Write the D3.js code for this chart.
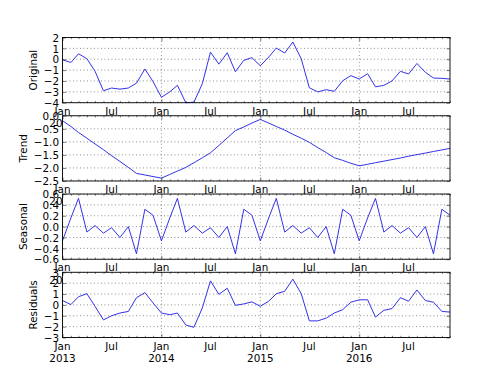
<!DOCTYPE html>
<html>
<head>
<meta charset="utf-8">
<script src="https://cdn.jsdelivr.net/npm/d3@7"></script>
<style>
  html, body { margin: 0; padding: 0; background: #fff; }
  text { font-family: "DejaVu Sans", sans-serif; font-size: 10.4px; fill: #000; }
</style>
</head>
<body>
<div id="chart"></div>
<script>
// monthly series, Jan 2013 .. Dec 2016
const original = [
  -0.05, -0.3, 0.5, 0.05, -1.1, -2.9, -2.65, -2.75, -2.65, -2.2, -0.9, -2.05,
  -3.5, -3.0, -2.4, -4.0, -3.95, -2.25, 0.65, -0.45, 0.6, -1.15, -0.1, 0.15,
  -0.6, 0.2, 1.03, 0.57, 1.59, 0.04, -2.63, -3.0, -2.8, -2.95, -1.98, -1.51,
  -1.82, -1.33, -2.54, -2.4, -2.0, -1.11, -1.36, -0.39, -1.2, -1.73, -1.76, -1.82
];
const trend = [
  -0.19, -0.41, -0.64, -0.86, -1.08, -1.30, -1.53, -1.75, -1.98, -2.21, -2.27, -2.33,
  -2.39, -2.25, -2.12, -1.98, -1.80, -1.61, -1.42, -1.14, -0.85, -0.57, -0.43, -0.28,
  -0.14, -0.28, -0.41, -0.55, -0.71, -0.86, -1.02, -1.22, -1.41, -1.61, -1.71, -1.82,
  -1.92, -1.86, -1.80, -1.74, -1.68, -1.62, -1.55, -1.49, -1.43, -1.37, -1.31, -1.25
];
const seasonal = [
  -0.26, 0.16, 0.52, -0.10, 0.02, -0.12, -0.02, -0.20, 0.00, -0.50, 0.32, 0.21,
  -0.26, 0.16, 0.52, -0.10, 0.02, -0.12, -0.02, -0.20, 0.00, -0.50, 0.32, 0.21,
  -0.26, 0.16, 0.52, -0.10, 0.02, -0.12, -0.02, -0.20, 0.00, -0.50, 0.32, 0.21,
  -0.26, 0.16, 0.52, -0.10, 0.02, -0.12, -0.02, -0.20, 0.00, -0.50, 0.32, 0.21
];
const residual = [
  0.4, 0.03, 0.75, 1.03, -0.13, -1.38, -1.0, -0.75, -0.6, 0.66, 1.13, 0.19,
  -0.75, -0.9, -0.75, -1.85, -2.06, -0.28, 2.21, 0.97, 1.53, -0.04, 0.09, 0.28,
  -0.13, 0.34, 1.03, 1.25, 2.37, 1.03, -1.47, -1.47, -1.22, -0.75, -0.44, 0.25,
  0.47, 0.47, -1.12, -0.5, -0.34, 0.66, 0.34, 1.37, 0.4, 0.25, -0.6, -0.66
];

const originalTicks = [-4, -3, -2, -1, 0, 1, 2];
const trendTicks = [-2.5, -2.0, -1.5, -1.0, -0.5, 0.0];
const seasonalTicks = [-0.6, -0.4, -0.2, 0.0, 0.2, 0.4, 0.6];
const residualTicks = [-3, -2, -1, 0, 1, 2, 3];

const monthNames = ["Jan", "Feb", "Mar", "Apr", "May", "Jun", "Jul", "Aug", "Sep", "Oct", "Nov", "Dec"];

const panels = [
  { name: "Original", values: original, ticks: originalTicks, fmt: d3.format("d") },
  { name: "Trend", values: trend, ticks: trendTicks, fmt: d3.format(".1f") },
  { name: "Seasonal", values: seasonal, ticks: seasonalTicks, fmt: d3.format(".1f") },
  { name: "Residuals", values: residual, ticks: residualTicks, fmt: d3.format("d") }
];

const width = 500, height = 375;
const margin = { left: 62.5, right: 450, top: 37.5, bottom: 337.5 };
const panelH = (margin.bottom - margin.top) / 4.6;
const gap = panelH * 0.2;
const w = margin.right - margin.left;
const majorLen = 3.5, minorLen = 1.7, pad = 3.5;

const dates = d3.timeMonth.range(new Date(2013, 0, 1), new Date(2017, 0, 1));
const jans = dates.filter(d => d.getMonth() === 0);
const minors = dates.filter(d => d.getMonth() !== 0);

const x = d3.scaleTime()
  .domain([dates[0], dates[dates.length - 1]])
  .range([0, w]);

const svg = d3.select("#chart")
  .append("svg")
  .attr("width", width)
  .attr("height", height);

svg.append("rect").attr("width", width).attr("height", height).attr("fill", "#fff");

panels.forEach((p, i) => {
  const g = svg.append("g")
    .attr("transform", `translate(${margin.left},${margin.top + i * (panelH + gap)})`);

  const y = d3.scaleLinear()
    .domain([p.ticks[0], p.ticks[p.ticks.length - 1]])
    .range([panelH, 0]);

  g.append("rect")
    .attr("width", w)
    .attr("height", panelH)
    .attr("fill", "#fff");

  // grid
  g.selectAll(".hgrid")
    .data(p.ticks)
    .enter()
    .append("line")
    .attr("x1", 0)
    .attr("x2", w)
    .attr("y1", d => y(d))
    .attr("y2", d => y(d))
    .attr("stroke", "#000")
    .attr("stroke-width", 0.5)
    .attr("stroke-dasharray", "0.9,2.6");

  g.selectAll(".vgrid")
    .data(jans)
    .enter()
    .append("line")
    .attr("x1", d => x(d))
    .attr("x2", d => x(d))
    .attr("y1", 0)
    .attr("y2", panelH)
    .attr("stroke", "#000")
    .attr("stroke-width", 0.5)
    .attr("stroke-dasharray", "0.9,2.6");

  const line = d3.line()
    .x((d, j) => x(dates[j]))
    .y(d => y(d));

  g.append("path")
    .datum(p.values)
    .attr("d", line)
    .attr("fill", "none")
    .attr("stroke", "#2828e6")
    .attr("stroke-width", 0.95);

  g.append("rect")
    .attr("width", w)
    .attr("height", panelH)
    .attr("fill", "none")
    .attr("stroke", "#000")
    .attr("stroke-width", 0.9);

  // x ticks, inward, on both sides
  const xb = g.append("g").attr("transform", `translate(0,${panelH})`);
  xb.call(d3.axisBottom(x).tickValues(jans).tickSize(-majorLen).tickFormat(""));
  xb.append("g").call(d3.axisBottom(x).tickValues(minors).tickSize(-minorLen).tickFormat(""));
  const xt = g.append("g");
  xt.call(d3.axisTop(x).tickValues(jans).tickSize(-majorLen).tickFormat(""));
  xt.append("g").call(d3.axisTop(x).tickValues(minors).tickSize(-minorLen).tickFormat(""));

  // x labels: Jan + year, Jul
  const labels = xb.append("g");
  labels.selectAll(".jan")
    .data(jans)
    .enter()
    .append("text")
    .attr("x", d => x(d))
    .attr("y", 12)
    .attr("text-anchor", "middle")
    .text(d => monthNames[d.getMonth()])
    .append("tspan")
    .attr("x", d => x(d))
    .attr("dy", 12.4)
    .text(d => d.getFullYear());
  labels.selectAll(".jul")
    .data(minors.filter(d => d.getMonth() === 6))
    .enter()
    .append("text")
    .attr("x", d => x(d))
    .attr("y", 12)
    .attr("text-anchor", "middle")
    .text(d => monthNames[d.getMonth()]);

  // y ticks
  const yl = g.append("g")
    .call(d3.axisLeft(y).tickValues(p.ticks).tickSize(-majorLen).tickPadding(pad).tickFormat(p.fmt));
  yl.selectAll("text").attr("dy", "0.36em");
  g.append("g")
    .attr("transform", `translate(${w},0)`)
    .call(d3.axisRight(y).tickValues(p.ticks).tickSize(-majorLen).tickFormat(""));

  g.selectAll(".domain").remove();
  g.selectAll(".tick line").attr("stroke", "#000").attr("stroke-width", 0.5);
  g.selectAll("g").attr("font-size", null).attr("font-family", null);

  const bb = yl.node().getBBox();
  g.append("text")
    .attr("transform", `translate(${bb.x - 6.8},${panelH / 2}) rotate(-90)`)
    .attr("text-anchor", "middle")
    .text(p.name);
});
</script>
</body>
</html>
